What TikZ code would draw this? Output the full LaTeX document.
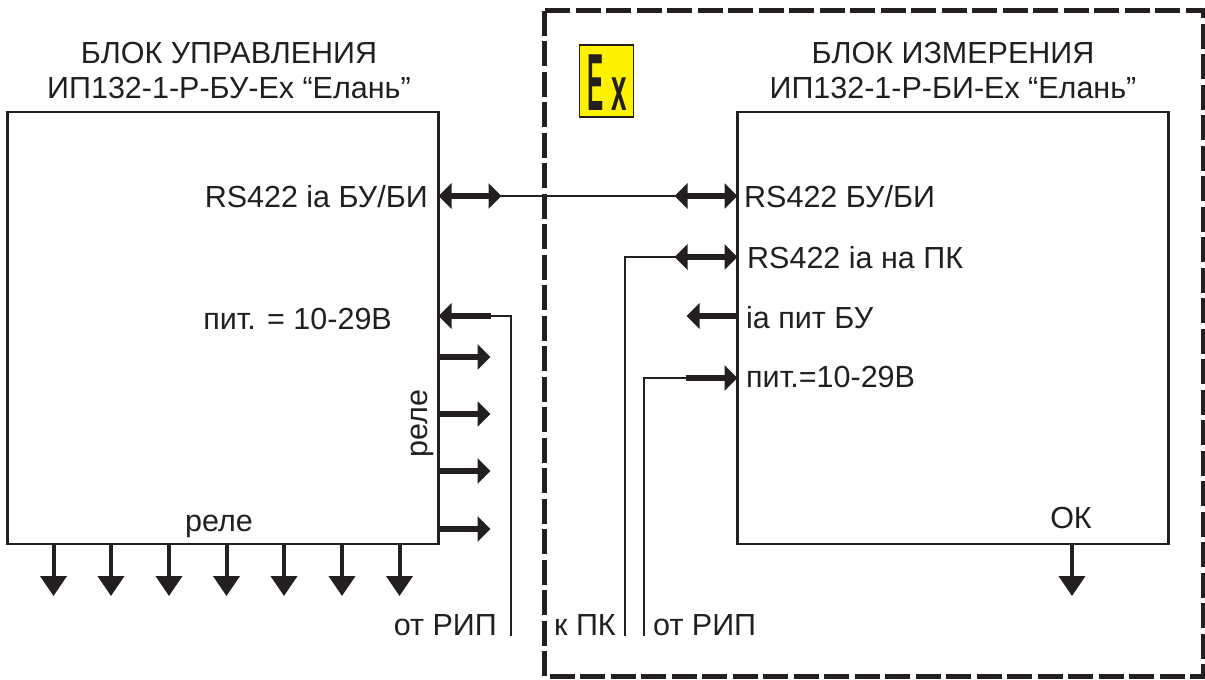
\documentclass[tikz,border=0pt]{standalone}
\usepackage{fontspec}
\setmainfont{Liberation Sans}
\usetikzlibrary{positioning,arrows.meta,calc}
\definecolor{inkblack}{HTML}{231F20}
\definecolor{exyellow}{HTML}{FFF200}
\tikzset{
  block/.style={draw=inkblack, line width=2.4pt, minimum width=431pt, minimum height=432pt, outer sep=0pt},
  lbl/.style={font=\fontsize{30.5}{35}\selectfont, text=inkblack, inner sep=0pt},
  hdr/.style={lbl, align=center},
  thinwire/.style={draw=inkblack, line width=2pt},
  fatarrow/.style={draw=inkblack, line width=5.5pt, -{Triangle[length=13pt,width=25pt]}},
  fatboth/.style={draw=inkblack, line width=5.5pt, {Triangle[length=13pt,width=25pt]}-{Triangle[length=13pt,width=25pt]}},
  downarrow/.style={draw=inkblack, line width=4pt, -{Triangle[length=20pt,width=26pt]}},
}
\begin{document}
\begin{tikzpicture}[x=1pt, y=-1pt]
    \useasboundingbox (0,0) rectangle (1205,680);
    \node[block] (bu) at (223,328) {};
    \node[block, right=299pt of bu] (bi) {};
    \node[hdr, above=13pt of bu, xshift=6pt] (buTitle)
      {БЛОК УПРАВЛЕНИЯ\\ИП132-1-Р-БУ-Ех “Елань”};
    \node[hdr, above=13pt of bi] (biTitle)
      {БЛОК ИЗМЕРЕНИЯ\\ИП132-1-Р-БИ-Ех “Елань”};
    \draw[draw=inkblack, line width=5pt, dash pattern=on 25pt off 5.5pt] (544,10.5) rectangle (1203,676);
    % знак Ex
    \node[draw=inkblack, fill=exyellow, line width=1.5pt, minimum width=54pt, minimum height=72pt, outer sep=0pt] (exSign) at (606.5,81) {};
    \node[inner sep=0pt, anchor=base west, text=inkblack] (exE) at (587,110)
      {\fontsize{81}{81}\bfseries\selectfont\scalebox{0.3}[1]{E}};
    \node[inner sep=0pt, anchor=base west, text=inkblack] (exX) at (611,110)
      {\fontsize{62}{62}\bfseries\selectfont\scalebox{0.45}[1]{x}};
    % подписи
    \node[lbl, anchor=base east] (rsBu) at (428,207) {RS422 ia БУ/БИ};
    \node[lbl, anchor=base east] (pitBu) at (392,329) {пит. = 10-29В};
    \node[lbl, anchor=base, rotate=90] (releV) at (427,423.5) {реле};
    \node[lbl, anchor=base] (releH) at (219,531) {реле};
    \node[lbl, anchor=base west] (rsBi) at (744,207) {RS422 БУ/БИ};
    \node[lbl, anchor=base west] (rsPc) at (747,268) {RS422 ia на ПК};
    \node[lbl, anchor=base west] (iaPit) at (746,328) {ia пит БУ};
    \node[lbl, anchor=base west] (pitBi) at (746,387) {пит.=10-29В};
    \node[lbl, anchor=base] (okLbl) at (1071,528) {ОК};
    \node[lbl, anchor=base east] (ripA) at (497,635) {от РИП};
    \node[lbl, anchor=base west] (toPc) at (554,635) {к ПК};
    \node[lbl, anchor=base west] (ripB) at (653,635) {от РИП};
    % точки соединений
    \coordinate (buRs) at (bu.east |- 0,196);
    \coordinate (biRs) at (bi.west |- 0,196);
    \coordinate (biPc) at (bi.west |- 0,257);
    \coordinate (biIa) at (bi.west |- 0,316);
    \coordinate (biPit) at (bi.west |- 0,378);
    \coordinate (buPit) at (bu.east |- 0,316);
    \coordinate (ripAend) at (511,636);
    \coordinate (toPcEnd) at (625,636);
    \coordinate (ripBend) at (644,636);
    % провода
    \draw[thinwire] (buRs) -- (biRs);
    \draw[thinwire] (biPc) -| (toPcEnd);
    \draw[thinwire] (buPit) -| (ripAend);
    \draw[thinwire] (biPit) -| (ripBend);
    % стрелки
    \draw[fatboth] (buRs) -- ++(63,0);
    \draw[fatboth] (biRs) -- ++(-63,0);
    \draw[fatboth] (biPc) -- ++(-63,0);
    \draw[fatarrow] (biIa) -- ++(-51,0);
    \draw[fatarrow] ($(biPit)+(-52,0)$) -- (biPit);
    \draw[fatarrow] ($(buPit)+(52,0)$) -- (buPit);
    \foreach \y in {357,414,471,529} {
      \draw[fatarrow] (bu.east |- 0,\y) -- ++(52,0);
    }
    \foreach \x in {53.5,111,169,226.5,284,342,399.5} {
      \draw[downarrow] (\x,544) -- ++(0,52);
    }
    \draw[downarrow] (bi.south -| 1072,0) -- ++(0,52);
  \end{tikzpicture}
\end{document}
